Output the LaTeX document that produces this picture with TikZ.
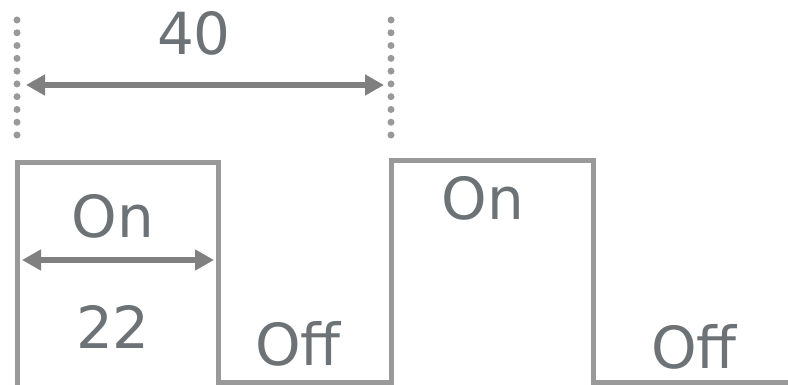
\documentclass[tikz,border=0pt]{standalone}
\usepackage{fontspec}
\setmainfont{DejaVu Sans}
\usetikzlibrary{arrows.meta}
\definecolor{txt}{RGB}{108,114,117}
\definecolor{wave}{RGB}{153,153,153}
\definecolor{arr}{RGB}{128,128,128}
\begin{document}
\begin{tikzpicture}[x=1pt,y=-1pt,
  lbl/.style={text=txt,font=\fontsize{58}{60}\selectfont,anchor=base,inner sep=0pt},
  wavel/.style={draw=wave,line width=5pt,line join=miter},
  dimarrow/.style={draw=arr,line width=6pt,{Triangle[length=19pt,width=20pt]}-{Triangle[length=19pt,width=20pt]}},
  dots/.style={draw=wave,line width=7pt,line cap=round,dash pattern=on 0pt off 12.78pt}]
\useasboundingbox (0,0) rectangle (788,385);
% waveform corners
\coordinate (w0) at (17,390);
\coordinate (w1) at (17,163);
\coordinate (w2) at (218,163);
\coordinate (w3) at (218,382);
\coordinate (w4) at (391,382);
\coordinate (w5) at (391,161);
\coordinate (w6) at (593,161);
\coordinate (w7) at (593,382);
\coordinate (w8) at (795,382);
\draw[wavel] (w0) -- (w1) -- (w2) -- (w3) -- (w4) -- (w5) -- (w6) -- (w7) -- (w8);
% dotted guides
\coordinate (d1a) at (17,20);
\coordinate (d1b) at (17,136);
\coordinate (d2a) at (391,20);
\coordinate (d2b) at (391,136);
\draw[dots] (d1a) -- (d1b);
\draw[dots] (d2a) -- (d2b);
% dimension arrows
\coordinate (a1) at (26,85);
\coordinate (a2) at (384,85);
\draw[dimarrow] (a1) -- (a2);
\coordinate (b1) at (22,260);
\coordinate (b2) at (214,260);
\draw[dimarrow] (b1) -- (b2);
% labels
\node[lbl] (t40) at (194,55) {40};
\node[lbl] (on1) at (113,237) {On};
\node[lbl] (t22) at (113,348) {22};
\node[lbl] (off1) at (298,365) {Off};
\node[lbl] (on2) at (483,220) {On};
\node[lbl] (off2) at (694,368) {Off};
\end{tikzpicture}
\end{document}
